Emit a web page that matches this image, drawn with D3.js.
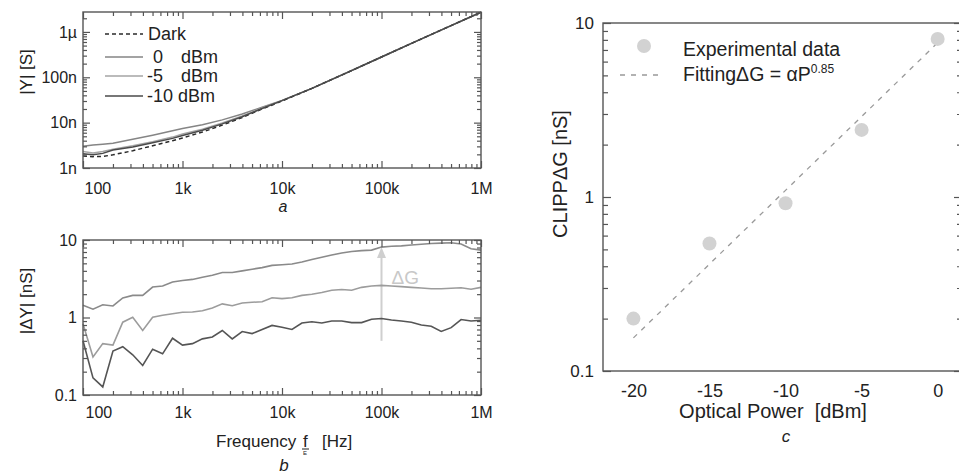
<!DOCTYPE html>
<html><head><meta charset="utf-8">
<script src="https://cdn.jsdelivr.net/npm/d3@7"></script>
<style>body{margin:0;background:#fff}svg{display:block}text{font-family:Arial,"Liberation Sans",sans-serif;fill:#222}</style>
</head><body><svg id="c" width="959" height="474"></svg>
<script>
// ---------- Panel a : |Y| vs frequency (values in nS) ----------
const freqA = [100,126,158,200,316,501,794,1000,1585,2512,3981,6310,1e4,2e4,5e4,1e5,2e5,5e5,1e6];
const yDark = [1.85,1.78,1.8,1.95,2.4,3.1,4.0,4.6,6.2,8.8,13,20,30,57,140,280,560,1380,2720];
const y0dBm = [3.0,3.2,3.35,3.5,4.3,5.3,6.6,7.4,9.0,11.5,15.5,22,31,57,141,280,560,1380,2720];
const yM5dBm = [2.3,2.15,2.3,2.6,3.1,3.8,4.8,5.6,7.2,9.8,14,21,30.5,57,140,280,560,1380,2720];
const yM10dBm = [2.05,1.95,2.1,2.5,2.9,3.6,4.5,5.2,6.8,9.4,13.5,20.5,30.5,57,140,280,560,1380,2720];
const legendA = ["Dark","0","-5","-10"];
const xTickVals = [100,1e3,1e4,1e5,1e6];
const xTickLabels = ["100","1k","10k","100k","1M"];
const yATickVals = [1,10,100,1000];
const yATickLabels = ["1n","10n","100n","1\u00b5"];

// ---------- Panel b : |ΔY| vs frequency (nS) ----------
const freqB = [100,126,158,200,251,316,398,501,631,794,1000,1259,1585,1995,2512,3162,3981,5012,6310,7943,
  1e4,12589,15849,19953,25119,31623,39811,50119,63096,79433,1e5,125893,158489,199526,251189,316228,398107,501187,630957,794328,1e6];
const dY0dBm = [1.44,1.28,1.46,1.41,1.79,1.93,1.93,2.47,2.55,2.87,3.0,3.1,3.3,3.5,3.8,3.8,4.0,4.2,4.4,4.7,
  4.8,4.9,5.2,5.6,6.0,6.4,6.8,7.1,7.3,7.4,8.1,8.3,8.4,8.6,8.8,9.0,9.1,9.2,8.9,7.7,7.4];
const dYM5dBm = [0.83,0.31,0.46,0.44,0.87,1.01,0.68,1.01,1.07,1.12,1.17,1.18,1.22,1.33,1.5,1.42,1.54,1.57,1.6,1.8,
  1.75,1.8,1.93,2.0,2.1,2.25,2.3,2.25,2.45,2.55,2.6,2.55,2.5,2.45,2.4,2.35,2.35,2.38,2.42,2.32,2.45];
const dYM10dBm = [0.5,0.166,0.127,0.37,0.42,0.33,0.24,0.39,0.34,0.54,0.44,0.46,0.53,0.56,0.68,0.53,0.66,0.62,0.7,0.79,
  0.75,0.70,0.85,0.88,0.85,0.9,0.9,0.86,0.86,0.95,0.97,0.93,0.9,0.87,0.8,0.77,0.66,0.74,0.94,0.9,0.92];
const yBTickVals = [0.1,1,10];
const yBTickLabels = ["0.1","1","10"];
const arrowFreq = 1e5, arrowFrom = 0.5, arrowTo = 8.1;

// ---------- Panel c : CLIPP ΔG vs optical power ----------
const powerDbm = [-20,-15,-10,-5,0];
const deltaG = [0.2,0.54,0.92,2.43,8.1];
const fitPower = [-20,0];
const fitG = [0.155,7.7];
const xCTickVals = [-20,-15,-10,-5,0];
const yCTickVals = [0.1,1,10];
const yCTickLabels = ["0.1","1","10"];

const svg = d3.select("#c");
const FRAME = "#555";

function frame(x0,y0,x1,y1){
  svg.append("rect").attr("x",x0).attr("y",y0).attr("width",x1-x0).attr("height",y1-y0)
    .attr("fill","none").attr("stroke",FRAME).attr("stroke-width",1.4);
}
function isMajor(v){ const l=Math.log10(Math.abs(v)); return Math.abs(l-Math.round(l))<1e-6; }
function innerTicks(scale, orient, pos, vals, len){
  const ax = (orient==="bottom"?d3.axisBottom:orient==="top"?d3.axisTop:orient==="left"?d3.axisLeft:d3.axisRight)(scale)
    .tickValues(vals).tickSize(-len).tickFormat("");
  const g = svg.append("g").attr("transform", (orient==="bottom"||orient==="top")?`translate(0,${pos})`:`translate(${pos},0)`).call(ax);
  g.select(".domain").remove();
  g.selectAll("line").attr("stroke",FRAME).attr("stroke-width",1.2);
}
function logAllTicks(scale, orient, pos, majLen, minLen){
  const t = scale.ticks(10);
  innerTicks(scale, orient, pos, t.filter(isMajor), majLen);
  innerTicks(scale, orient, pos, t.filter(v=>!isMajor(v)), minLen);
}
function labelsAxis(scale, orient, pos, vals, labels, pad, size){
  const ax = (orient==="bottom"?d3.axisBottom:d3.axisLeft)(scale).tickValues(vals).tickSize(0).tickPadding(pad)
    .tickFormat((d,i)=>labels[i]);
  const g = svg.append("g").attr("transform", orient==="bottom"?`translate(0,${pos})`:`translate(${pos},0)`).call(ax);
  g.select(".domain").remove();
  g.attr("font-family",null).attr("font-size",null);
  g.selectAll("text").style("font-size",size+"px").attr("fill","#222");
  return g;
}

// ===== Panel a =====
const xA = d3.scaleLog().domain([100,1e6]).range([83,481]);
const yA = d3.scaleLog().domain([1,2750]).range([168,12]);
const lineA = d3.line().x((d,i)=>xA(freqA[i])).y(d=>yA(d));
const serA = [
  {v:y0dBm, c:"#858585", dash:null},
  {v:yM5dBm, c:"#a5a5a5", dash:null},
  {v:yDark, c:"#2a2a2a", dash:"4,3"},
  {v:yM10dBm, c:"#4a4a4a", dash:null}
];
serA.forEach(s=>{
  svg.append("path").attr("d",lineA(s.v)).attr("fill","none").attr("stroke",s.c)
    .attr("stroke-width",1.5).attr("stroke-dasharray",s.dash);
});
frame(83,12,481,168);
logAllTicks(xA,"bottom",168,7,4);
logAllTicks(xA,"top",12,7,4);
logAllTicks(yA,"left",83,7,4);
logAllTicks(yA,"right",481,7,4);
const gxa = labelsAxis(xA,"bottom",168,xTickVals,xTickLabels,15,16);
gxa.selectAll("text").filter((d,i)=>i===0).attr("text-anchor","start").attr("dx",1);
labelsAxis(yA,"left",83,yATickVals,yATickLabels,6,16);
svg.append("text").attr("transform","translate(32,72) rotate(-90)").attr("text-anchor","middle").style("font-size","17px").text("|Y| [S]");
svg.append("text").attr("x",283).attr("y",212).attr("text-anchor","middle").style("font-size","16px").style("font-style","italic").text("a");
// legend a
const legY=[34,57,76,96];
const legStyle=[serA[2],serA[0],serA[1],serA[3]];
legStyle.forEach((s,i)=>{
  svg.append("line").attr("x1",105).attr("x2",143).attr("y1",legY[i]).attr("y2",legY[i])
    .attr("stroke",s.c).attr("stroke-width",1.5).attr("stroke-dasharray",s.dash);
});
svg.append("text").attr("x",148).attr("y",legY[0]+6).style("font-size","18px").text(legendA[0]);
[1,2].forEach(i=>{
  svg.append("text").attr("x",legendA[i]==="0"?153:147).attr("y",legY[i]+6).style("font-size","18px").text(legendA[i]);
  svg.append("text").attr("x",218).attr("y",legY[i]+6).attr("text-anchor","end").style("font-size","18px").text("dBm");
});
svg.append("text").attr("x",147).attr("y",legY[3]+6).style("font-size","18px").text(legendA[3]+" dBm");

// ===== Panel b =====
const xB = d3.scaleLog().domain([100,1e6]).range([83,481]);
const yB = d3.scaleLog().domain([0.1,10]).range([395,240]);
const lineB = d3.line().x((d,i)=>xB(freqB[i])).y(d=>yB(d));
const ax0 = xB(arrowFreq);
svg.append("line").attr("x1",ax0).attr("x2",ax0).attr("y1",yB(arrowFrom)).attr("y2",yB(arrowTo)+8)
  .attr("stroke","#cfcfcf").attr("stroke-width",2);
svg.append("path").attr("d",`M${ax0},${yB(arrowTo)} l-4.5,11 l9,0 z`).attr("fill","#cfcfcf");
svg.append("text").attr("x",ax0+10).attr("y",284).style("font-size","19px").style("fill","#c8c8c8").text("\u0394G");
[{v:dY0dBm,c:"#8a8a8a"},{v:dYM5dBm,c:"#9c9c9c"},{v:dYM10dBm,c:"#555"}].forEach(s=>{
  svg.append("path").attr("d",lineB(s.v)).attr("fill","none").attr("stroke",s.c).attr("stroke-width",1.6);
});
frame(83,240,481,395);
logAllTicks(xB,"bottom",395,7,4);
logAllTicks(xB,"top",240,7,4);
logAllTicks(yB,"left",83,7,4);
logAllTicks(yB,"right",481,7,4);
const gxb = labelsAxis(xB,"bottom",395,xTickVals,xTickLabels,12,16);
gxb.selectAll("text").filter((d,i)=>i===0).attr("text-anchor","start").attr("dx",2);
labelsAxis(yB,"left",83,yBTickVals,yBTickLabels,6,16);
svg.append("text").attr("transform","translate(32,301) rotate(-90)").attr("text-anchor","middle").style("font-size","17px").text("|\u0394Y| [nS]");
svg.append("text").attr("x",216).attr("y",447).style("font-size","17px").text("Frequency");
svg.append("text").attr("x",303).attr("y",447).style("font-size","17px").text("f");
svg.append("line").attr("x1",302).attr("x2",309).attr("y1",449).attr("y2",449).attr("stroke","#222").attr("stroke-width",1);
svg.append("text").attr("x",303).attr("y",455).style("font-size","6px").text("E");
svg.append("text").attr("x",322).attr("y",447).style("font-size","17px").text("[Hz]");
svg.append("text").attr("x",284).attr("y",471).attr("text-anchor","middle").style("font-size","17px").style("font-style","italic").text("b");

// ===== Panel c =====
const xC = d3.scaleLinear().domain([-22,1.6]).range([603,962]);
const yC = d3.scaleLog().domain([0.1,10]).range([371,23]);
svg.append("path").attr("d",d3.line().x((d,i)=>xC(fitPower[i])).y(d=>yC(d))(fitG))
  .attr("fill","none").attr("stroke","#999").attr("stroke-width",1.3).attr("stroke-dasharray","5,6");
svg.selectAll("circle.pt").data(deltaG).enter().append("circle").attr("class","pt")
  .attr("cx",(d,i)=>xC(powerDbm[i])).attr("cy",d=>yC(d)).attr("r",7).attr("fill","#d2d2d2");
frame(603,23,962,371);
logAllTicks(yC,"left",603,8,5);
logAllTicks(yC,"right",962,8,5);
labelsAxis(xC,"bottom",371,xCTickVals,xCTickVals.map(String),13,18);
labelsAxis(yC,"left",603,yCTickVals,yCTickLabels,9,17);
svg.append("text").attr("transform","translate(567,174) rotate(-90)").attr("text-anchor","middle").style("font-size","20px").text("CLIPP\u0394G [nS]");
svg.append("text").attr("x",773).attr("y",418).attr("text-anchor","middle").style("font-size","20px").text("Optical Power\u00a0\u00a0[dBm]");
svg.append("text").attr("x",786).attr("y",442).attr("text-anchor","middle").style("font-size","17px").style("font-style","italic").text("c");
// legend c
svg.append("circle").attr("cx",644).attr("cy",46).attr("r",7).attr("fill","#d2d2d2");
svg.append("text").attr("x",683).attr("y",56).style("font-size","19.5px").text("Experimental data");
svg.append("line").attr("x1",620).attr("x2",664).attr("y1",75).attr("y2",75).attr("stroke","#999").attr("stroke-width",1.3).attr("stroke-dasharray","5,6");
const ft = svg.append("text").attr("x",683).attr("y",81).style("font-size","19.5px");
ft.append("tspan").text("Fitting\u0394G = \u03b1P");
ft.append("tspan").attr("dy",-8).style("font-size","12px").text("0.85");
</script></body></html>
